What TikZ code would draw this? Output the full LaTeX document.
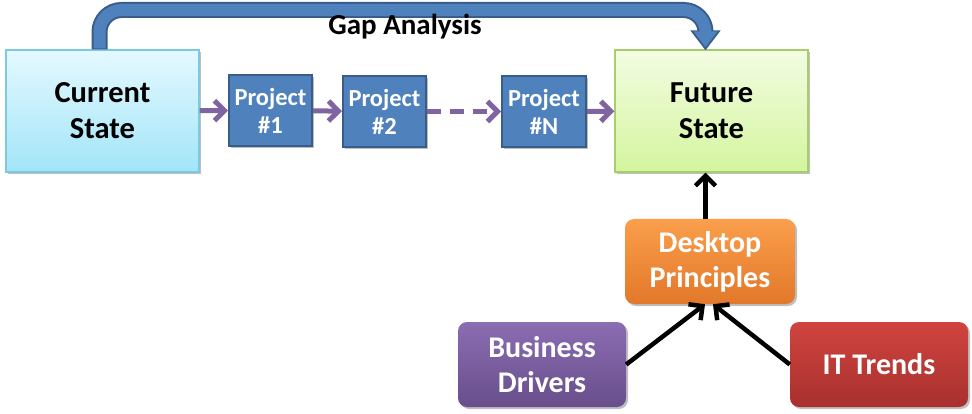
\documentclass[tikz,border=0pt]{standalone}
\usepackage{fontspec}
\setmainfont{Carlito}
\usetikzlibrary{arrows.meta, positioning, calc, shadows}
\definecolor{projblue}{HTML}{4F81BD}
\definecolor{projedge}{HTML}{385D8A}
\definecolor{flowpurple}{HTML}{8064A2}
\definecolor{curtop}{HTML}{E4F9FF}
\definecolor{curbot}{HTML}{A2E5F8}
\definecolor{curedge}{HTML}{7FC9E0}
\definecolor{futtop}{HTML}{F3FCE2}
\definecolor{futbot}{HTML}{D4F59E}
\definecolor{futedge}{HTML}{A6CE6A}
\definecolor{orgtop}{HTML}{FA9F4C}
\definecolor{orgbot}{HTML}{E2782A}
\definecolor{purtop}{HTML}{8B6DB2}
\definecolor{purbot}{HTML}{684E8B}
\definecolor{redtop}{HTML}{D0443F}
\definecolor{redbot}{HTML}{A8302E}

\tikzset{
  softshadow/.style={drop shadow={shadow xshift=2pt, shadow yshift=-2pt, opacity=0.25, fill=black}},
  statebox/.style={rectangle, draw, line width=1.2pt, minimum width=193pt, minimum height=122pt,
    align=center, inner sep=0pt, font=\bfseries\fontsize{30.5}{36}\selectfont, softshadow},
  projbox/.style={rectangle, draw=projedge, fill=projblue, line width=2pt, minimum width=83pt,
    minimum height=71pt, align=center, inner sep=0pt, text=white,
    font=\bfseries\fontsize{24.5}{28}\selectfont, softshadow},
  inputbox/.style={rectangle, rounded corners=9pt, minimum height=85pt, align=center,
    inner sep=0pt, text=white, font=\bfseries\fontsize{30}{35}\selectfont, softshadow},
  flow/.style={flowpurple, line width=5pt, -{Straight Barb[length=10pt,width=20pt]}},
  push/.style={black, line width=4.5pt, -{Straight Barb[length=10pt,width=20pt]}},
}

\begin{document}
\begin{tikzpicture}[x=1pt, y=-1pt]
  \useasboundingbox (0,0) rectangle (972,414);
  % States
  \node[statebox, draw=curedge, top color=curtop, bottom color=curbot] (cur) at (102.5,111) {Current\\State};
  \node[statebox, draw=futedge, top color=futtop, bottom color=futbot] (fut) at (711.5,111) {Future\\State};
  % Projects
  \node[projbox] (pone) at (270.5,110.5) {Project\\\#1};
  \node[projbox] (ptwo) at (384.5,111.5) {Project\\\#2};
  \node[projbox, minimum width=84pt] (pn) at (544,111.5) {Project\\\#N};
  % Inputs
  \node[inputbox, minimum width=170pt, top color=orgtop, bottom color=orgbot] (princ) at (710,261.5) {Desktop\\Principles};
  \node[inputbox, minimum width=168pt, top color=purtop, bottom color=purbot] (biz) at (542,364.5) {Business\\Drivers};
  \node[inputbox, minimum width=178pt, top color=redtop, bottom color=redbot] (trends) at (879,364.5) {IT Trends};
  % Gap analysis arrow
  \coordinate (top) at (0,10);
  \coordinate (gapstart) at ($(cur.north)+(-3,0)$);
  \coordinate (gapend) at ($(fut.north)+(-6,0)$);
  \draw[projedge, line width=16pt, rounded corners=22pt, -{Triangle[length=20pt,width=29pt]}]
    (gapstart) -- (gapstart |- top) -- (gapend |- top) -- ($(gapend)+(0,1)$);
  \draw[projblue, line width=12pt, rounded corners=22pt, -{Triangle[length=16pt,width=23pt]}]
    ($(gapstart)+(0,-1)$) -- (gapstart |- top) -- (gapend |- top) -- ($(gapend)+(0,-2)$);
  \node[font=\bfseries\fontsize{29}{32}\selectfont] (gap) at (405,27) {Gap Analysis};
  % Project flow
  \draw[flow] (cur) -- (pone);
  \draw[flow] (pone) -- (ptwo);
  \draw[flow, dash pattern=on 14pt off 9pt] (ptwo) -- (pn);
  \draw[flow] (pn) -- (fut);
  % Inputs to future state
  \draw[push] (princ.north -| gapend) -- (fut.south -| gapend);
  \draw[push] (biz.east) -- ($(princ.south)+(-5,0)$);
  \draw[push] (trends.west) -- ($(princ.south)+(3,0)$);
\end{tikzpicture}
\end{document}
